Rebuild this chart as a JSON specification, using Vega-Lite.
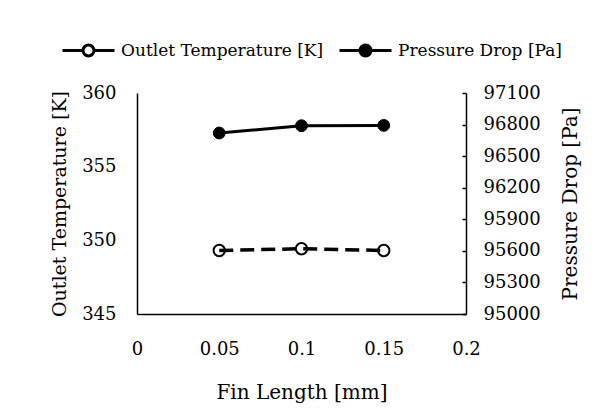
{
  "$schema": "https://vega.github.io/schema/vega-lite/v6.json",
  "width": 329,
  "height": 221,
  "autosize": {"type": "none"},
  "padding": {"left": 137, "top": 93, "right": 149, "bottom": 104},
  "background": "white",
  "config": {
    "view": {"stroke": null},
    "font": "DejaVu Serif",
    "axis": {"labelFont": "DejaVu Serif", "titleFont": "DejaVu Serif", "labelFontSize": 18, "titleFontSize": 20, "labelColor": "#000", "titleColor": "#000", "titleFontWeight": "normal", "domainColor": "#000", "domainWidth": 1.5, "grid": false, "tickColor": "#000"},
    "legend": {"labelFont": "DejaVu Serif", "labelFontSize": 17, "labelColor": "#000", "labelLimit": 400}
  },
  "data": {"values": [
    {"length": 0.05, "temp": 349.31, "pressure": 96720},
    {"length": 0.10, "temp": 349.43, "pressure": 96789},
    {"length": 0.15, "temp": 349.31, "pressure": 96792}
  ]},
  "encoding": {
    "x": {"field": "length", "type": "quantitative", "scale": {"domain": [0, 0.2], "nice": false, "zero": false},
      "axis": {"title": "Fin Length  [mm]", "values": [0, 0.05, 0.1, 0.15, 0.2], "format": ".2~f", "ticks": false, "tickSize": 0, "labelPadding": 26, "titlePadding": 24, "labelFlush": false}}
  },
  "layer": [
    {
      "encoding": {
        "y": {"field": "temp", "type": "quantitative", "scale": {"domain": [345, 360], "nice": false, "zero": false},
          "axis": {"title": "Outlet Temperature [K]", "titleFontSize": 19, "orient": "left", "values": [345, 350, 355, 360], "ticks": false, "tickSize": 0, "labelPadding": 21, "titlePadding": 12}}
      },
      "layer": [
        {"mark": {"type": "point", "filled": true, "stroke": "black", "strokeWidth": 2, "size": 130, "shape": "circle", "opacity": 1},
         "encoding": {"fill": {"datum": "Outlet Temperature [K]", "type": "nominal",
            "scale": {"domain": ["Outlet Temperature [K]", "Pressure Drop [Pa]"], "range": ["white", "black"]},
            "legend": {"title": null, "orient": "none", "direction": "horizontal", "legendX": -76, "legendY": -70,
              "symbolType": "M-1,0L-0.21,0M0.21,0L1,0M-0.21,0A0.21,0.21,0,1,0,0.21,0A0.21,0.21,0,1,0,-0.21,0Z",
              "symbolSize": 2704, "symbolStrokeColor": "black", "symbolStrokeWidth": 3, "labelOffset": 5, "columnPadding": 9, "padding": 0}}}},
        {"mark": {"type": "line", "color": "black", "strokeWidth": 3.5, "strokeDash": [14, 7]}}
      ]
    },
    {
      "encoding": {
        "y": {"field": "pressure", "type": "quantitative", "scale": {"domain": [95000, 97100], "nice": false, "zero": false},
          "axis": {"title": "Pressure Drop [Pa]", "orient": "right", "values": [95000, 95300, 95600, 95900, 96200, 96500, 96800, 97100], "format": "d", "tickSize": -4, "tickWidth": 1.5, "labelPadding": 21, "titlePadding": 20, "titleAngle": 270, "titleBaseline": "top"}}
      },
      "layer": [
        {"mark": {"type": "line", "color": "black", "strokeWidth": 3}},
        {"mark": {"type": "point", "filled": true, "stroke": "black", "strokeWidth": 1, "size": 140, "shape": "circle", "opacity": 1},
         "encoding": {"fill": {"datum": "Pressure Drop [Pa]", "type": "nominal",
            "scale": {"domain": ["Outlet Temperature [K]", "Pressure Drop [Pa]"], "range": ["white", "black"]},
            "legend": {"title": null, "orient": "none", "direction": "horizontal", "legendX": -76, "legendY": -70,
              "symbolType": "M-1,0L-0.21,0M0.21,0L1,0M-0.21,0A0.21,0.21,0,1,0,0.21,0A0.21,0.21,0,1,0,-0.21,0Z",
              "symbolSize": 2704, "symbolStrokeColor": "black", "symbolStrokeWidth": 3, "labelOffset": 5, "columnPadding": 9, "padding": 0}}}}
      ]
    }
  ],
  "resolve": {"scale": {"y": "independent"}}
}
